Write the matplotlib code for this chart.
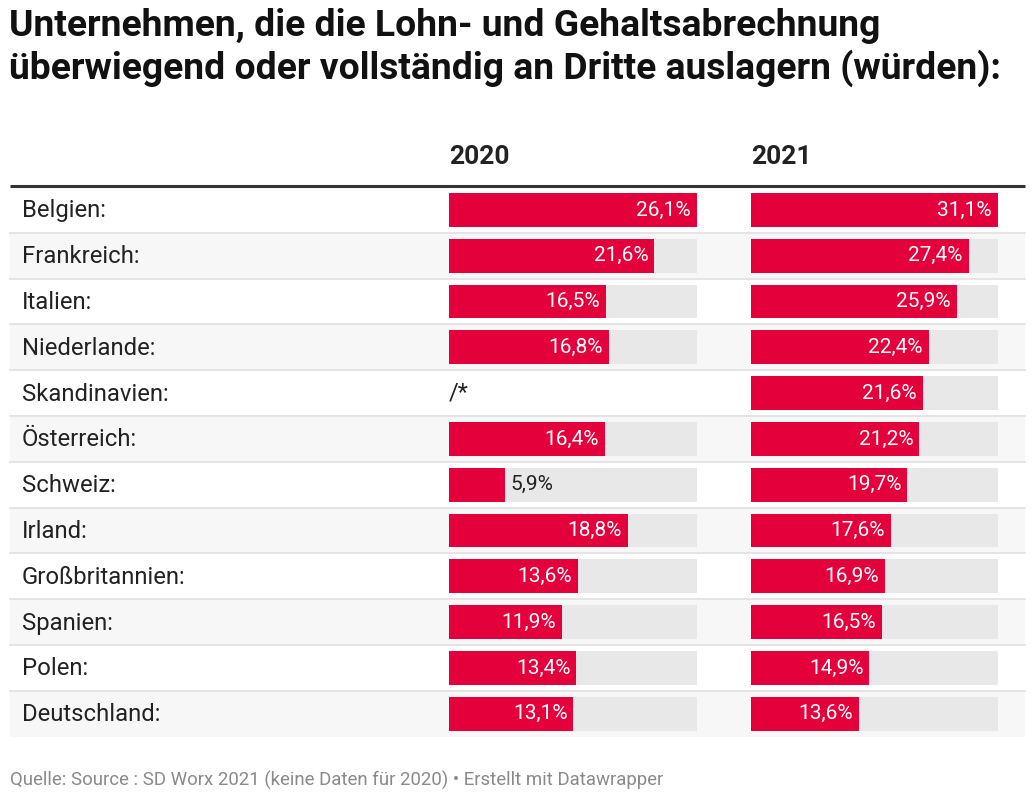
import matplotlib.pyplot as plt
import numpy as np

plt.rcParams['font.family'] = ['Roboto', 'DejaVu Sans']

# data
countries = ["Belgien:", "Frankreich:", "Italien:", "Niederlande:", "Skandinavien:",
             "Österreich:", "Schweiz:", "Irland:", "Großbritannien:", "Spanien:",
             "Polen:", "Deutschland:"]
v2020 = [26.1, 21.6, 16.5, 16.8, np.nan, 16.4, 5.9, 18.8, 13.6, 11.9, 13.4, 13.1]
v2021 = [31.1, 27.4, 25.9, 22.4, 21.6, 21.2, 19.7, 17.6, 16.9, 16.5, 14.9, 13.6]
years = ["2020", "2021"]

title = ("Unternehmen, die die Lohn- und Gehaltsabrechnung\n"
         "überwiegend oder vollständig an Dritte auslagern (würden):")
footer = "Quelle: Source : SD Worx 2021 (keine Daten für 2020) • Erstellt mit Datawrapper"

RED = "#e4003a"
BG = "#e8e8e8"
W, H = 1034, 800
n = len(countries)
top, rowh = 187, 45.8

fig = plt.figure(figsize=(W / 100, H / 100), dpi=100)
base = fig.add_axes([0, 0, 1, 1])
base.set_xlim(0, W)
base.set_ylim(H, 0)
base.axis("off")

base.text(9, 8, title, fontsize=26.8, fontweight="bold", color="#111111",
          va="top", ha="left", linespacing=1.17)

# header
base.text(449, 157, years[0], fontsize=19, fontweight="bold", color="#222222", va="center")
base.text(751, 157, years[1], fontsize=19, fontweight="bold", color="#222222", va="center")
base.plot([10, 1025], [185.5, 185.5], color="#333333", lw=2.2, solid_capstyle="butt")

# rows
for i, name in enumerate(countries):
    y0 = top + i * rowh
    if i % 2 == 1:
        base.fill_between([10, 1025], y0, y0 + rowh, color="#f7f7f7", lw=0, zorder=0)
    if i > 0:
        base.plot([10, 1025], [y0, y0], color="#e3e3e3", lw=1.3, zorder=1)
    base.text(22, y0 + rowh / 2 + 1, name, fontsize=17.2, color="#222222", va="center")

base.text(10, 780, footer, fontsize=13.4, color="#8a8a8a", va="center")


def fmt(v):
    return ("%.1f%%" % v).replace(".", ",")


def draw_col(x0, x1, vals):
    ax = fig.add_axes([x0 / W, 1 - (top + n * rowh) / H, (x1 - x0) / W, n * rowh / H])
    ax.set_facecolor("none")
    vmax = np.nanmax(vals)
    ax.set_xlim(0, vmax)
    ax.set_ylim(n - 0.5, -0.5)
    ax.axis("off")
    ypos = np.arange(n)
    has = ~np.isnan(np.array(vals, dtype=float))
    ax.barh(ypos[has], [vmax] * int(has.sum()), height=0.74, color=BG, lw=0)
    ax.barh(ypos[has], np.array(vals)[has], height=0.74, color=RED, lw=0)
    px = (x1 - x0) / vmax
    for i, v in enumerate(vals):
        if np.isnan(v):
            ax.text(0, i, "/*", fontsize=17, color="#222222", va="center", ha="left")
        elif v * px < 70:
            ax.text(v + 5 / px, i, fmt(v), fontsize=15, color="#222222",
                    va="center", ha="left")
        else:
            ax.text(v - 6 / px, i, fmt(v), fontsize=15, color="white",
                    va="center", ha="right")


draw_col(449, 697, v2020)
draw_col(751, 998, v2021)

fig.savefig("out.png", dpi=100, facecolor="white")
